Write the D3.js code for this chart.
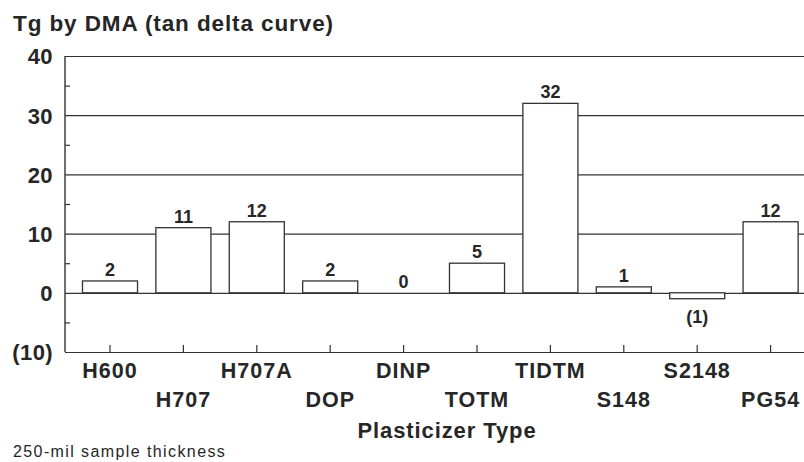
<!DOCTYPE html>
<html>
<head>
<meta charset="utf-8">
<script src="https://cdn.jsdelivr.net/npm/d3@7"></script>
<style>
  html, body { margin: 0; padding: 0; background: #fff; }
  svg { display: block; }
  text { font-family: "Liberation Sans", Arial, Helvetica, sans-serif; fill: #262626; }
</style>
</head>
<body>
<svg id="chart" width="804" height="462"></svg>
<script>
// Glass transition shift by plasticizer
const categories = ["H600", "H707", "H707A", "DOP", "DINP", "TOTM", "TIDTM", "S148", "S2148", "PG54"];
const values = [2, 11, 12, 2, 0, 5, 32, 1, -1, 12];
const majorTicks = [-10, 0, 10, 20, 30, 40];
const minorTicks = [-5, 5, 15, 25, 35];

const plotLeft = 65, plotRight = 804, plotTop = 56, plotBottom = 352;
const svg = d3.select("#chart");
const ink = "#333";

const y = d3.scaleLinear().domain([-10, 40]).range([plotBottom, plotTop]);
const x = d3.scaleBand().domain(categories).range([73.3, 807.3])
  .paddingInner(0.25).paddingOuter(0.125);

const fmt = v => v < 0 ? `(${Math.abs(v)})` : `${v}`;
const rows = categories.map((c, i) => ({ cat: c, value: values[i] }));

// title
svg.append("text").attr("x", 13).attr("y", 31)
  .attr("font-size", 22.5).attr("font-weight", "bold").attr("letter-spacing", 0.9)
  .text("Tg by DMA (tan delta curve)");

// gridlines + y labels
const yAxis = svg.append("g").attr("transform", `translate(${plotLeft},0)`)
  .call(d3.axisLeft(y).tickValues(majorTicks).tickFormat(fmt)
    .tickSize(-(plotRight - plotLeft)).tickSizeOuter(0).tickPadding(12));
yAxis.select(".domain").remove();
yAxis.selectAll(".tick line").attr("stroke", ink).attr("stroke-width", 1.2);
yAxis.selectAll(".tick text").attr("font-size", 22).attr("font-weight", "bold")
  .attr("fill", "#262626").attr("dy", "0.36em").attr("letter-spacing", 0.4);

// bars (white fill hides gridlines behind them)
svg.append("g").selectAll("rect").data(rows.filter(d => d.value !== 0)).join("rect")
  .attr("x", d => x(d.cat))
  .attr("y", d => y(Math.max(0, d.value)))
  .attr("width", x.bandwidth())
  .attr("height", d => Math.abs(y(d.value) - y(0)))
  .attr("fill", "#fff").attr("stroke", ink).attr("stroke-width", 1.3);

// value labels
svg.append("g").selectAll("text").data(rows).join("text")
  .attr("x", d => x(d.cat) + x.bandwidth() / 2)
  .attr("y", d => d.value < 0 ? y(d.value) + 24 : y(d.value) - 5)
  .attr("text-anchor", "middle").attr("font-size", 18).attr("font-weight", "bold")
  .text(d => fmt(d.value));

// minor ticks on the value axis
const minor = svg.append("g").attr("transform", `translate(${plotLeft},0)`)
  .call(d3.axisLeft(y).tickValues(minorTicks).tickSize(-5).tickFormat(""));
minor.select(".domain").remove();
minor.selectAll(".tick line").attr("stroke", ink).attr("stroke-width", 1.2);

// value axis line
svg.append("line").attr("x1", plotLeft).attr("x2", plotLeft)
  .attr("y1", plotTop).attr("y2", plotBottom)
  .attr("stroke", ink).attr("stroke-width", 1.4);

// category axis with staggered labels
const xAxis = svg.append("g").attr("transform", `translate(0,${plotBottom})`)
  .call(d3.axisBottom(x).tickSize(-7).tickSizeOuter(0).tickPadding(0));
xAxis.select(".domain").remove();
xAxis.selectAll(".tick line").attr("stroke", ink).attr("stroke-width", 1.2);
xAxis.selectAll(".tick text")
  .attr("font-size", 21.5).attr("font-weight", "bold").attr("fill", "#262626")
  .attr("letter-spacing", 1.0)
  .attr("dy", null)
  .attr("y", (d, i) => i % 2 === 0 ? 26 : 55);

// axis title
svg.append("text").attr("x", 447).attr("y", 438).attr("text-anchor", "middle")
  .attr("font-size", 22).attr("font-weight", "bold").attr("letter-spacing", 0.9)
  .text("Plasticizer Type");

// footnote
svg.append("text").attr("x", 13).attr("y", 457)
  .attr("font-size", 16).attr("fill", "#444").attr("letter-spacing", 1.4)
  .text("250-mil sample thickness");
</script>
</body>
</html>
